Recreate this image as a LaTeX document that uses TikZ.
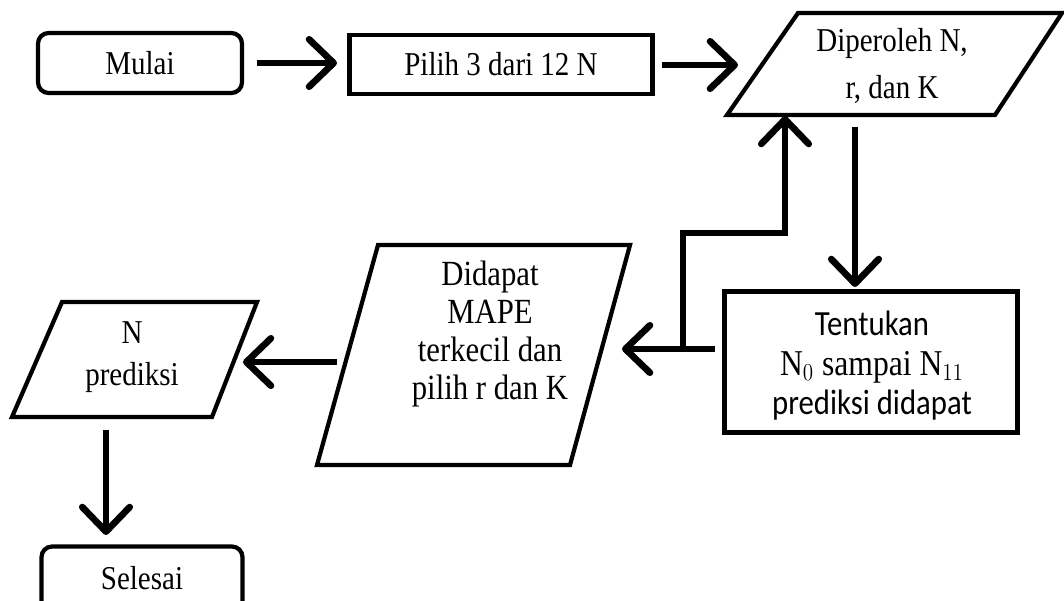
\documentclass[tikz,border=0pt]{standalone}
\usepackage{fontspec}
\setmainfont{Liberation Serif}
\newfontfamily\calibri{Carlito}
\usetikzlibrary{arrows.meta}
\newcommand{\tall}[1]{\scalebox{1}[1.15]{#1}}
\tikzset{
  term/.style={draw,line width=2.4pt,rounded corners=6pt,font=\fontsize{16.5}{20}\selectfont},
  proc/.style={draw,line width=2.4pt,font=\fontsize{16.5}{20}\selectfont},
  para/.style={line width=2.4pt,line join=miter},
  lbl/.style={align=center,font=\fontsize{16.5}{26}\selectfont},
  arr/.style={line width=3.8pt,-{Straight Barb[length=14pt,width=27pt,round]}},
}
\begin{document}
\begin{tikzpicture}[x=0.02cm,y=-0.02cm]
    \useasboundingbox (0,0) rectangle (1064,600);
    \fill[white] (0,0) rectangle (1064,600);
    % kotak
    \node[term,minimum width=4.08cm,minimum height=1.2cm] (mulai) at (140,63) {\tall{Mulai}};
    \node[proc,minimum width=6.06cm,minimum height=1.18cm] (pilih) at (501,64.5) {\tall{Pilih 3 dari 12 N}};
    \node[proc,line width=2.8pt,minimum width=5.86cm,minimum height=2.82cm] (tentukan) at (871,362) {};
    \node[term,minimum width=4.02cm,minimum height=1.5cm] (selesai) at (142,584) {};
    \node (selesaiT) at (142,578) {\fontsize{16.5}{20}\selectfont\tall{Selesai}};
    \node[align=center,font=\fontsize{17.5}{21.5}\selectfont] (tentukanT) at (872,366)
        {\calibri\tall{Tentukan}\\[1pt]
         \fontsize{18}{21.5}\selectfont\tall{N$_{0}$ sampai N$_{11}$}\\[1pt]
         \calibri\fontsize{17.5}{21.5}\selectfont\tall{prediksi didapat}};
    % jajaran genjang
    \draw[para] (798,13) -- (1062,13) -- (995,115) -- (727,115) -- cycle;
    \node[lbl,font=\fontsize{16.5}{27}\selectfont] (diperoleh) at (892,66) {\tall{Diperoleh N,}\\ \tall{r, dan K}};
    \draw[para] (378,245) -- (630,245) -- (570,465) -- (317,465) -- cycle;
    \node[lbl,font=\fontsize{17.5}{21.6}\selectfont] (didapat) at (490,334)
        {\tall{Didapat}\\ \tall{MAPE}\\ \tall{terkecil dan}\\ \tall{pilih r dan K}};
    \draw[para] (62,302) -- (257,302) -- (212,417) -- (12,417) -- cycle;
    \node[lbl,font=\fontsize{16.5}{24}\selectfont] (nprediksi) at (132,357) {\tall{N}\\ \tall{prediksi}};
    % ujung panah
    \coordinate (a1) at (257,63);  \coordinate (b1) at (337,63);
    \coordinate (a2) at (662,65);  \coordinate (b2) at (738,65);
    \coordinate (a3) at (855,127); \coordinate (b3) at (855,287);
    \coordinate (a4) at (715,349); \coordinate (b4) at (622,349);
    \coordinate (c4) at (683,349); \coordinate (d4) at (683,233);
    \coordinate (e4) at (785,233); \coordinate (b5) at (785,116);
    \coordinate (a6) at (337,362); \coordinate (b6) at (243,362);
    \coordinate (a7) at (106,430); \coordinate (b7) at (106,535);
    \draw[arr] (a1) -- (b1);
    \draw[arr] (a2) -- (b2);
    \draw[arr] (a3) -- (b3);
    \draw[arr] (a4) -- (b4);
    \draw[arr,line join=miter] (c4) -- (d4) -- (e4) -- (b5);
    \draw[arr] (a6) -- (b6);
    \draw[arr] (a7) -- (b7);
\end{tikzpicture}
\end{document}
